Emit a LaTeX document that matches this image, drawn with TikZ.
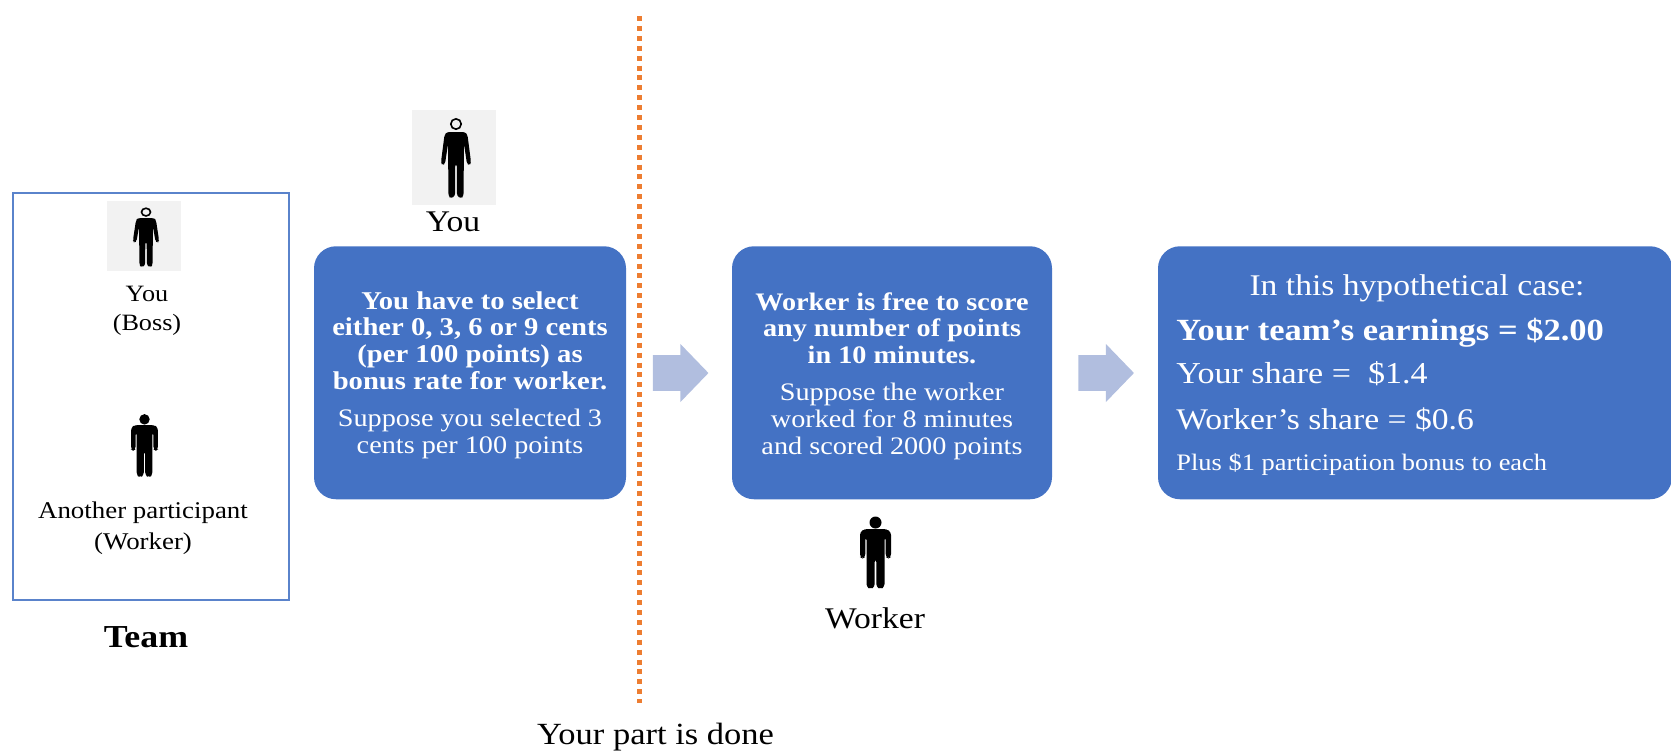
\documentclass[tikz,border=0pt]{standalone}
\usepackage{fontspec}
\setmainfont[FakeStretch=1.12]{Liberation Serif}
\usetikzlibrary{shapes.arrows}
\definecolor{boxblue}{HTML}{4472C4}
\definecolor{arrowblue}{HTML}{B1BEDF}
\definecolor{dotorange}{HTML}{ED7D31}
\definecolor{iconbg}{HTML}{F2F2F2}
\newcommand{\sizeat}[1]{\fontsize{#1}{13.4}\selectfont}
\tikzset{
  flowbox/.style={fill=boxblue,draw=none,rounded corners=11pt,text=white,minimum height=126.5pt,inner sep=0pt,align=center,font=\sizeat{12.8}},
  stepflow/.style={single arrow,fill=arrowblue,draw=none,single arrow head extend=5.6pt,minimum width=28.6pt,minimum height=27.8pt,inner xsep=0pt,inner ysep=8.75pt,single arrow tip angle=92},
  iconback/.style={fill=iconbg,draw=none,inner sep=0pt},
  label/.style={text=black,align=center,inner sep=0pt},
  inbox/.style={text=white,inner sep=0pt,anchor=base west},
  slimperson/.pic={
    \draw[black,line width=.8pt] (0,-8) circle[x radius=5.2,y radius=5.2];
    \fill[black,rounded corners=1.2pt] (0,0) -- (-9,0) -- (-11.5,3) -- (-15,30) -- (-14,33) -- (-11,32) -- (-8,12) -- (-7.5,64) -- (-5,66.5) -- (-1,64) -- (-.8,32) -- (.8,32) -- (1,64) -- (5,66.5) -- (7.5,64) -- (8,12) -- (11,32) -- (14,33) -- (15,30) -- (11.5,3) -- (9,0) -- cycle;
  },
  stoutperson/.pic={
    \fill[black] (0,-6.5) circle[x radius=6,y radius=6];
    \fill[black,rounded corners=1.5pt] (0,0) -- (-11,0) -- (-15.5,3) -- (-15.5,28) -- (-13,29.5) -- (-10.2,28) -- (-10.2,8) -- (-9,8) -- (-9,58) -- (-5,60) -- (-.8,58) -- (-.8,30) -- (.8,30) -- (.8,58) -- (5,60) -- (9,58) -- (9,8) -- (10.2,8) -- (10.2,28) -- (13,29.5) -- (15.5,28) -- (15.5,3) -- (11,0) -- cycle;
  }
}
\begin{document}
\begin{tikzpicture}[x=0.5pt,y=-0.5pt]
\useasboundingbox (0,0) rectangle (1671,752);
% team frame
\node[draw=boxblue!88,line width=.75pt,fill=none,minimum width=138pt,minimum height=203.5pt,inner sep=0pt] (team) at (151,396.5) {};
\node[iconback,minimum width=37pt,minimum height=35pt] (bossbg) at (144,236) {};
\pic at (146,218) [xscale=.87,yscale=.74] {slimperson};
\node[label,font=\fontsize{11.7}{14.6}\selectfont,anchor=center] (boss) at (147,311) {You\\(Boss)};
\pic at (144.5,425) [xscale=.87,yscale=.87] {stoutperson};
\node[label,font=\fontsize{12}{15.4}\selectfont] (other) at (143,528) {Another participant\\(Worker)};
\node[label,anchor=base,font=\fontsize{16}{18}\selectfont\bfseries] (teamlabel) at (146,647) {Team};
% you
\node[iconback,minimum width=42pt,minimum height=47.5pt] (youbg) at (454,157.5) {};
\pic at (456,132) {slimperson};
\node[label,anchor=base,font=\fontsize{15}{18}\selectfont] (you) at (453,231) {You};
% boxes
\node[flowbox,minimum width=156pt] (b1) at (470,372.75) {\rule{0pt}{11pt}\bfseries You have to select\\\bfseries either 0, 3, 6 or 9 cents\\\bfseries (per 100 points) as\\\bfseries bonus rate for worker.\\[5pt]\sizeat{12.6}Suppose you selected 3\\\sizeat{12.6}cents per 100 points};
\node[flowbox,minimum width=160pt,font=\sizeat{12.6}] (b2) at (892,372.75) {\rule{0pt}{12pt}\bfseries Worker is free to score\\\bfseries any number of points\\\bfseries in 10 minutes.\\[5pt]Suppose the worker\\worked for 8 minutes\\and scored 2000 points};
\node[flowbox,minimum width=257pt] (b3) at (1415,372.75) {};
\node[inbox,anchor=base,font=\fontsize{15}{18}\selectfont] (c0) at (1417,295) {In this hypothetical case:};
\node[inbox,font=\fontsize{15.4}{18}\selectfont\bfseries] (c1) at (1176,340) {Your team’s earnings = \$2.00};
\node[inbox,font=\fontsize{15.2}{18}\selectfont] (c2) at (1176,383) {Your share =~~\$1.4};
\node[inbox,font=\fontsize{15}{18}\selectfont] (c3) at (1176,429) {Worker’s share = \$0.6};
\node[inbox,font=\fontsize{11.8}{14}\selectfont] (c4) at (1176,470) {Plus \$1 participation bonus to each};
% arrows
\node[stepflow] (a1) at (672,373) {};
\node[stepflow] (a2) at (1097.5,373) {};
% divider
\coordinate (dtop) at (639.5,16);
\coordinate (dbot) at (639.5,703);
\draw[dotorange,line width=2.7pt,dash pattern=on 2.5pt off 2.45pt] (dtop) -- (dbot);
\node[label,anchor=base,font=\fontsize{15.4}{18}\selectfont] (done) at (655.5,744) {Your part is done};
% worker
\pic at (875.5,529) {stoutperson};
\node[label,anchor=base,font=\fontsize{15}{18}\selectfont] (worker) at (875,628) {Worker};
\end{tikzpicture}
\end{document}
